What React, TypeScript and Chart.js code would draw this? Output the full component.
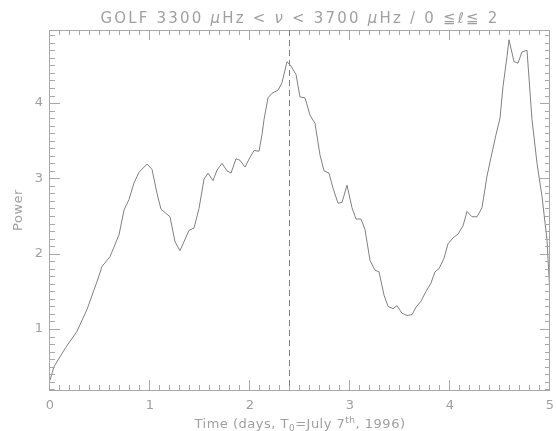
import { useEffect, useRef } from "react";
import { Chart, registerables } from "chart.js";

Chart.register(...registerables);

// Power in the 3300–3700 µHz band versus time (days from T0)
const timeDays = [
  0.0, 0.04, 0.155, 0.27, 0.37, 0.44, 0.47, 0.52, 0.6, 0.69, 0.74, 0.79, 0.84, 0.89, 0.97,
  1.02, 1.07, 1.11, 1.2, 1.25, 1.3, 1.39, 1.44, 1.49, 1.54, 1.58, 1.63, 1.67, 1.72, 1.77,
  1.81, 1.86, 1.9, 1.95, 2.0, 2.04, 2.09, 2.12, 2.14, 2.18, 2.22, 2.28, 2.32, 2.37, 2.41,
  2.46, 2.5, 2.55, 2.6, 2.65, 2.7, 2.74, 2.79, 2.83, 2.88, 2.92, 2.97, 3.02, 3.06, 3.11,
  3.15, 3.2, 3.25, 3.29, 3.34, 3.38, 3.43, 3.47, 3.52, 3.57, 3.62, 3.66, 3.71, 3.76, 3.81,
  3.85, 3.89, 3.94, 3.98, 4.03, 4.08, 4.13, 4.17, 4.22, 4.27, 4.32, 4.37, 4.42, 4.46, 4.5,
  4.53, 4.57, 4.59, 4.64, 4.68, 4.72, 4.77, 4.82, 4.87, 4.92, 4.97, 5.0,
];

const power = [
  0.32, 0.5, 0.75, 0.97, 1.26, 1.52, 1.63, 1.83, 1.96, 2.25, 2.58, 2.72, 2.94, 3.08, 3.19,
  3.12, 2.8, 2.59, 2.49, 2.16, 2.04, 2.31, 2.34, 2.6, 2.99, 3.07, 2.97, 3.11, 3.2, 3.1,
  3.07, 3.26, 3.24, 3.15, 3.28, 3.37, 3.36, 3.58, 3.78, 4.07, 4.13, 4.17, 4.27, 4.55, 4.49,
  4.38, 4.08, 4.07, 3.84, 3.73, 3.31, 3.1, 3.07, 2.87, 2.67, 2.68, 2.91, 2.61, 2.46, 2.46,
  2.32, 1.91, 1.78, 1.76, 1.45, 1.3, 1.27, 1.31, 1.21, 1.18, 1.19, 1.29, 1.37, 1.5, 1.61,
  1.76, 1.8, 1.94, 2.13, 2.21, 2.26, 2.37, 2.56, 2.49, 2.49, 2.61, 3.03, 3.34, 3.58, 3.8,
  4.22, 4.62, 4.84, 4.55, 4.53, 4.68, 4.7, 3.78, 3.2, 2.76, 2.18, 1.45,
];

const xMajorTicks = [0, 1, 2, 3, 4, 5];
const yMajorTicks = [1, 2, 3, 4];
const minorPerMajor = 10;
const markerTime = 2.4;

const AXIS_COLOR = "#a8a8a8";
const TEXT_COLOR = "#a0a0a0";
const LINE_COLOR = "#808080";
const FONT = "'DejaVu Sans', sans-serif";

type Seg = { text: string; size: number; dy: number; italic?: boolean };

function drawSegments(ctx: CanvasRenderingContext2D, segs: Seg[], cx: number, y: number, spacing: number) {
  ctx.save();
  (ctx as any).letterSpacing = `${spacing}px`;
  const widths = segs.map((s) => {
    ctx.font = `${s.italic ? "italic " : ""}${s.size}px ${FONT}`;
    return ctx.measureText(s.text).width;
  });
  const total = widths.reduce((a, b) => a + b, 0);
  let x = cx - total / 2;
  ctx.textBaseline = "alphabetic";
  ctx.textAlign = "left";
  ctx.fillStyle = TEXT_COLOR;
  segs.forEach((s, i) => {
    ctx.font = `${s.italic ? "italic " : ""}${s.size}px ${FONT}`;
    ctx.fillText(s.text, x, y + s.dy);
    x += widths[i];
  });
  ctx.restore();
}

const framePlugin = {
  id: "frame",
  afterDraw(chart: any) {
    const { ctx, chartArea } = chart;
    const xs = chart.scales.x;
    const ys = chart.scales.y;
    const { left, right, top, bottom } = chartArea;

    ctx.save();
    ctx.strokeStyle = AXIS_COLOR;
    ctx.lineWidth = 1;
    ctx.strokeRect(left - 0.5, top + 0.5, right - left, bottom - top);

    // inward tick marks on all four sides
    ctx.beginPath();
    const xStep = (xMajorTicks[1] - xMajorTicks[0]) / minorPerMajor;
    for (let i = 0; i < xMajorTicks.length; i++) {
      const v0 = xMajorTicks[i];
      for (let k = 0; k < minorPerMajor; k++) {
        if (i === xMajorTicks.length - 1 && k > 0) break;
        const v = v0 + k * xStep;
        const px = Math.round(xs.getPixelForValue(v)) - 0.5;
        const len = k === 0 ? 10 : 5;
        ctx.moveTo(px, bottom);
        ctx.lineTo(px, bottom - len);
        ctx.moveTo(px, top);
        ctx.lineTo(px, top + len);
      }
    }
    const yStep = (yMajorTicks[1] - yMajorTicks[0]) / minorPerMajor;
    const firstMinor = Math.ceil(ys.min / yStep - 1e-6);
    const lastMinor = Math.floor(ys.max / yStep + 1e-6);
    for (let n = firstMinor; n <= lastMinor; n++) {
      const v = n * yStep;
      const py = Math.round(ys.getPixelForValue(v)) + 0.5;
      const len = n % minorPerMajor === 0 ? 10 : 5;
      ctx.moveTo(left, py);
      ctx.lineTo(left + len, py);
      ctx.moveTo(right, py);
      ctx.lineTo(right - len, py);
    }
    ctx.stroke();

    // marker line
    const mx = Math.round(xs.getPixelForValue(markerTime)) - 0.5;
    ctx.setLineDash([6, 4]);
    ctx.strokeStyle = LINE_COLOR;
    ctx.beginPath();
    ctx.moveTo(mx, top);
    ctx.lineTo(mx, bottom);
    ctx.stroke();
    ctx.setLineDash([]);
    ctx.restore();

    const cx = (left + right) / 2;

    // title
    drawSegments(
      ctx,
      [
        { text: "GOLF 3300 ", size: 15, dy: 0 },
        { text: "μ", size: 15, dy: 0, italic: true },
        { text: "Hz < ", size: 15, dy: 0 },
        { text: "ν", size: 15, dy: 0, italic: true },
        { text: " < 3700 ", size: 15, dy: 0 },
        { text: "μ", size: 15, dy: 0, italic: true },
        { text: "Hz / 0 ≦", size: 15, dy: 0 },
        { text: "ℓ", size: 15, dy: 0, italic: true },
        { text: "≦ 2", size: 15, dy: 0 },
      ],
      cx,
      23,
      2.2
    );

    // x axis title with subscript and superscript
    drawSegments(
      ctx,
      [
        { text: "Time (days, T", size: 13, dy: 0 },
        { text: "0", size: 9, dy: 3 },
        { text: "=July 7", size: 13, dy: 0 },
        { text: "th", size: 9, dy: -5 },
        { text: ", 1996)", size: 13, dy: 0 },
      ],
      cx,
      428,
      0.5
    );

    // y axis title
    ctx.save();
    ctx.translate(22, (top + bottom) / 2);
    ctx.rotate(-Math.PI / 2);
    ctx.font = `13px ${FONT}`;
    (ctx as any).letterSpacing = "0.5px";
    ctx.fillStyle = TEXT_COLOR;
    ctx.textAlign = "center";
    ctx.textBaseline = "alphabetic";
    ctx.fillText("Power", 0, 0);
    ctx.restore();
  },
};

export default function App() {
  const canvasRef = useRef<HTMLCanvasElement | null>(null);

  useEffect(() => {
    if (!canvasRef.current) return;
    const chart = new Chart(canvasRef.current, {
      type: "line",
      data: {
        datasets: [
          {
            data: timeDays.map((t, i) => ({ x: t, y: power[i] })),
            borderColor: LINE_COLOR,
            borderWidth: 1,
            pointRadius: 0,
            tension: 0,
            fill: false,
          },
        ],
      },
      options: {
        animation: false,
        responsive: false,
        devicePixelRatio: 1,
        layout: { padding: { left: 0, right: 6, top: 30, bottom: 0 } },
        plugins: { legend: { display: false }, tooltip: { enabled: false }, title: { display: false } },
        scales: {
          x: {
            type: "linear",
            min: 0,
            max: 5,
            grid: { display: false, drawTicks: false },
            border: { display: false },
            afterBuildTicks: (s: any) => {
              s.ticks = xMajorTicks.map((value) => ({ value }));
            },
            afterFit: (s: any) => {
              s.height = 41;
              s.paddingLeft = 0;
              s.paddingRight = 0;
            },
            ticks: {
              color: TEXT_COLOR,
              font: { family: FONT, size: 13 },
              padding: 8,
              maxRotation: 0,
              callback: (v: any) => String(v),
            },
          },
          y: {
            type: "linear",
            min: 0.19,
            max: 4.97,
            grid: { display: false, drawTicks: false },
            border: { display: false },
            afterBuildTicks: (s: any) => {
              s.ticks = yMajorTicks.map((value) => ({ value }));
            },
            afterFit: (s: any) => {
              s.width = 50;
              s.paddingTop = 0;
              s.paddingBottom = 0;
            },
            ticks: {
              color: TEXT_COLOR,
              font: { family: FONT, size: 13 },
              padding: 7,
              callback: (v: any) => String(v),
            },
          },
        },
      },
      plugins: [framePlugin],
    });
    return () => chart.destroy();
  }, []);

  return (
    <div style={{ position: "absolute", left: 0, top: 0, width: 556, height: 431, background: "#fff" }}>
      <canvas ref={canvasRef} width={556} height={431} style={{ display: "block" }} />
    </div>
  );
}
